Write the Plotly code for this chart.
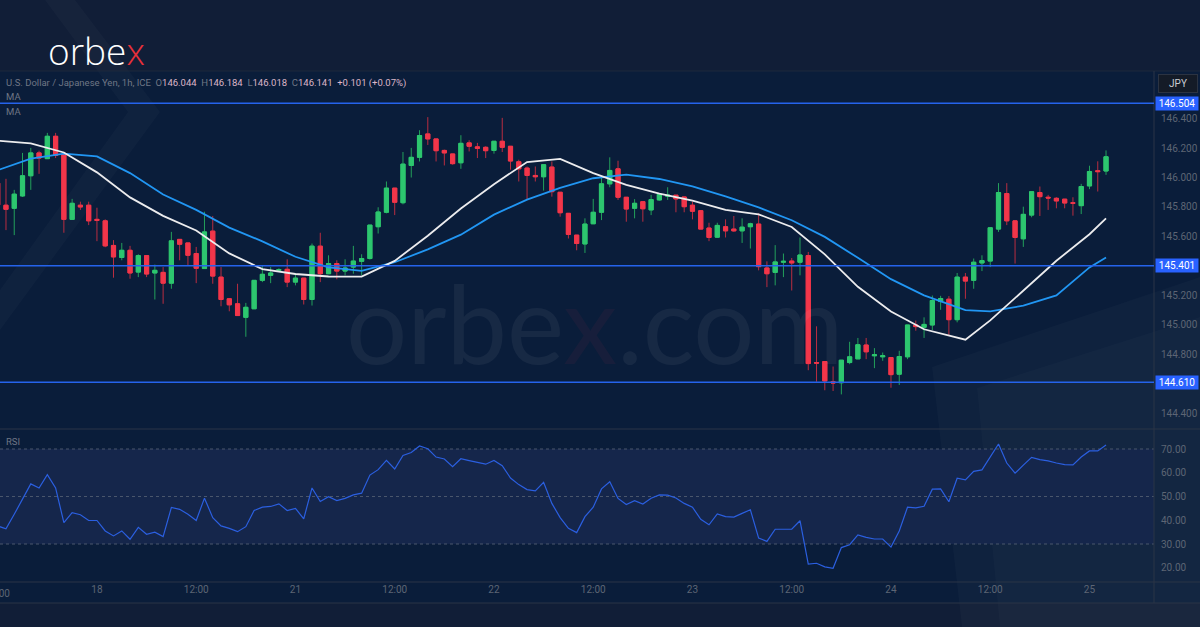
import plotly.graph_objects as go

# ---------------- data ----------------
opens = [145.962, 145.812, 145.791, 145.875, 146.012, 146.167, 146.128, 146.280, 146.155, 145.716,
         145.812, 145.812, 145.716, 145.706, 145.539, 145.457, 145.506, 145.358, 145.470, 145.352,
         145.356, 145.283, 145.580, 145.556, 145.484, 145.382, 145.636, 145.324, 145.177, 145.143,
         145.051, 145.109, 145.302, 145.336, 145.370, 145.377, 145.290, 145.317, 145.172, 145.534,
         145.347, 145.416, 145.365, 145.392, 145.431, 145.450, 145.666, 145.764, 145.928, 145.829,
         146.082, 146.137, 146.296, 146.262, 146.184, 146.160, 146.100, 146.235, 146.208, 146.205,
         146.184, 146.246, 146.212, 146.107, 146.064, 146.014, 146.005, 146.071, 145.900, 145.757,
         145.609, 145.549, 145.686, 145.764, 145.957, 146.059, 145.866, 145.791, 145.836, 145.780,
         145.848, 145.873, 145.880, 145.868, 145.812, 145.775, 145.657, 145.595, 145.666, 145.650,
         145.638, 145.666, 145.684, 145.386, 145.356, 145.425, 145.433, 145.425, 145.470, 144.744,
         144.751, 144.614, 144.607, 144.744, 144.769, 144.863, 144.790, 144.783, 144.778, 144.665,
         144.783, 144.999, 144.983, 144.999, 145.158, 145.174, 145.035, 145.324, 145.302, 145.420,
         145.433, 145.650, 145.891, 145.706, 145.584, 145.745, 145.898, 145.866, 145.859, 145.853,
         145.829, 145.809, 145.943, 146.046, 146.044]
highs = [145.984, 145.991, 145.916, 146.167, 146.201, 146.182, 146.303, 146.303, 146.167, 145.855,
         145.836, 145.836, 145.795, 145.716, 145.575, 145.556, 145.536, 145.479, 145.470, 145.409,
         145.392, 145.631, 145.580, 145.556, 145.529, 145.768, 145.739, 145.392, 145.177, 145.279,
         145.149, 145.302, 145.399, 145.392, 145.384, 145.445, 145.347, 145.317, 145.552, 145.625,
         145.472, 145.438, 145.445, 145.536, 145.479, 145.677, 145.798, 145.973, 145.928, 146.173,
         146.201, 146.321, 146.410, 146.262, 146.189, 146.160, 146.287, 146.253, 146.235, 146.212,
         146.246, 146.405, 146.212, 146.121, 146.075, 146.075, 146.087, 146.109, 145.900, 145.757,
         145.609, 145.723, 145.855, 146.007, 146.137, 146.114, 145.866, 145.853, 145.836, 145.882,
         145.887, 145.934, 145.880, 145.868, 145.836, 145.775, 145.693, 145.693, 145.716, 145.739,
         145.723, 145.693, 145.757, 145.431, 145.541, 145.484, 145.454, 145.593, 145.495, 144.990,
         144.751, 144.717, 144.760, 144.885, 144.911, 144.911, 144.842, 144.812, 144.778, 144.824,
         144.999, 145.029, 145.051, 145.199, 145.197, 145.195, 145.352, 145.352, 145.450, 145.472,
         145.659, 145.962, 145.962, 145.706, 145.802, 145.904, 145.939, 145.882, 145.866, 145.853,
         145.866, 145.957, 146.080, 146.110, 146.184]
lows = [145.780, 145.643, 145.609, 145.868, 145.916, 146.025, 146.128, 146.132, 145.625, 145.716,
        145.780, 145.677, 145.568, 145.527, 145.320, 145.438, 145.313, 145.324, 145.324, 145.172,
        145.143, 145.245, 145.438, 145.404, 145.283, 145.382, 145.279, 145.126, 145.092, 145.063,
        144.919, 145.109, 145.290, 145.283, 145.363, 145.256, 145.268, 145.138, 145.131, 145.290,
        145.347, 145.309, 145.336, 145.347, 145.336, 145.443, 145.620, 145.757, 145.745, 145.818,
        146.000, 146.109, 146.221, 146.109, 146.082, 146.087, 146.059, 146.177, 146.132, 146.132,
        146.162, 146.173, 146.053, 145.973, 145.848, 145.973, 145.911, 145.870, 145.734, 145.586,
        145.506, 145.488, 145.686, 145.711, 145.934, 145.848, 145.700, 145.723, 145.700, 145.745,
        145.843, 145.848, 145.764, 145.764, 145.716, 145.650, 145.568, 145.593, 145.593, 145.631,
        145.556, 145.518, 145.370, 145.256, 145.268, 145.324, 145.233, 145.336, 144.692, 144.614,
        144.556, 144.551, 144.528, 144.733, 144.769, 144.767, 144.706, 144.756, 144.573, 144.592,
        144.767, 144.960, 144.911, 144.965, 145.102, 144.926, 145.017, 145.177, 145.245, 145.365,
        145.392, 145.631, 145.677, 145.416, 145.529, 145.730, 145.739, 145.780, 145.791, 145.791,
        145.741, 145.752, 145.921, 145.905, 146.018]
closes = [145.814, 145.784, 145.887, 146.012, 146.167, 146.132, 146.280, 146.150, 145.716, 145.825,
          145.800, 145.706, 145.709, 145.536, 145.461, 145.506, 145.352, 145.470, 145.345, 145.370,
          145.283, 145.570, 145.547, 145.472, 145.384, 145.631, 145.331, 145.172, 145.136, 145.063,
          145.119, 145.302, 145.343, 145.352, 145.375, 145.290, 145.317, 145.172, 145.534, 145.347,
          145.416, 145.365, 145.386, 145.433, 145.450, 145.677, 145.766, 145.928, 145.832, 146.091,
          146.137, 146.285, 146.262, 146.182, 146.167, 146.094, 146.232, 146.212, 146.198, 146.182,
          146.246, 146.205, 146.112, 146.059, 146.014, 146.005, 146.087, 145.904, 145.761, 145.614,
          145.552, 145.684, 145.764, 145.957, 146.048, 145.866, 145.786, 145.825, 145.788, 145.850,
          145.887, 145.880, 145.855, 145.802, 145.771, 145.650, 145.593, 145.675, 145.638, 145.638,
          145.663, 145.686, 145.395, 145.347, 145.427, 145.431, 145.420, 145.474, 144.737, 144.740,
          144.619, 144.605, 144.760, 144.783, 144.865, 144.817, 144.797, 144.790, 144.662, 144.785,
          144.999, 144.988, 145.003, 145.165, 145.179, 145.035, 145.324, 145.297, 145.425, 145.436,
          145.659, 145.898, 145.706, 145.593, 145.750, 145.904, 145.870, 145.861, 145.841, 145.827,
          145.825, 145.939, 146.041, 146.040, 146.141]

rsi = [37.6, 36.4, 42.5, 48.7, 55.3, 53.6, 59.2, 53.6, 39.0, 43.2,
       42.3, 39.9, 39.9, 35.5, 33.4, 35.5, 32.0, 37.0, 34.1, 35.0,
       33.1, 45.4, 44.6, 42.5, 39.9, 49.3, 41.1, 37.6, 36.6, 35.2,
       37.3, 44.1, 45.5, 45.8, 46.9, 44.1, 45.0, 40.6, 53.6, 47.9,
       49.9, 48.3, 49.2, 50.7, 51.4, 59.0, 61.3, 65.2, 61.6, 67.3,
       68.5, 71.3, 70.1, 66.6, 65.8, 62.6, 65.9, 65.1, 64.4, 63.6,
       65.2, 63.0, 57.8, 55.0, 52.9, 52.4, 56.0, 47.1, 41.1, 36.6,
       34.8, 41.5, 45.5, 53.2, 56.2, 49.2, 46.6, 48.2, 46.8, 49.3,
       50.7, 50.6, 49.4, 47.1, 45.5, 40.4, 38.1, 42.7, 41.5, 41.3,
       42.9, 44.4, 32.5, 31.1, 36.2, 36.2, 36.2, 39.8, 21.5, 21.9,
       20.4, 19.8, 28.5, 29.7, 33.8, 32.8, 32.1, 32.1, 28.7, 35.5,
       45.5, 45.2, 45.9, 53.1, 53.2, 47.8, 57.7, 57.0, 60.6, 61.2,
       66.9, 72.1, 64.1, 59.8, 63.2, 66.5, 65.5, 65.0, 64.1, 63.4,
       63.3, 66.6, 69.2, 69.2, 71.7]

ma_idx = [0, 4, 8, 12, 16, 20, 24, 28, 32, 36, 40, 44, 48, 52, 56, 60, 64, 68, 72, 76,
          80, 84, 88, 92, 96, 100, 104, 108, 112, 117, 120, 124, 128, 132, 134]
ma_fast = [146.250, 146.232, 146.170, 146.035, 145.865, 145.740, 145.640, 145.485, 145.378, 145.345,
           145.328, 145.327, 145.434, 145.605, 145.790, 145.955, 146.105, 146.127, 146.030, 145.950,
           145.890, 145.843, 145.780, 145.750, 145.664, 145.478, 145.258, 145.090, 144.970, 144.899,
           145.030, 145.230, 145.435, 145.615, 145.723]
ma_slow = [146.050, 146.128, 146.162, 146.143, 146.030, 145.885, 145.780, 145.660, 145.567, 145.462,
           145.390, 145.366, 145.425, 145.512, 145.612, 145.748, 145.850, 145.930, 145.995, 146.020,
           145.990, 145.940, 145.872, 145.797, 145.710, 145.597, 145.455, 145.310, 145.200, 145.100,
           145.092, 145.130, 145.200, 145.390, 145.457]

levels = [146.504, 145.401, 144.610]
price_ticks = [144.4, 144.8, 145.0, 145.2, 145.6, 145.8, 146.0, 146.2, 146.4]
rsi_ticks = [20, 30, 40, 50, 60, 70]
rsi_bands = [30, 50, 70]
time_tick_idx = [12, 24, 36, 48, 60, 72, 84, 96, 108, 120, 132]
time_tick_text = ["18", "12:00", "21", "12:00", "22", "12:00", "23", "12:00", "24", "12:00", "25"]
first_tick_text = "12:00"
symbol_title = "U.S. Dollar / Japanese Yen, 1h, ICE"
currency = "JPY"

# ---------------- helpers for layout positions (pixels -> paper) ----------------
W, H = 1200, 627
def px(x):
    return x / W
def py(y):
    return 1 - y / H

idx = list(range(len(opens)))
body_hi = [max(o, c) for o, c in zip(opens, closes)]
body_lo = [min(o, c) for o, c in zip(opens, closes)]

GREEN = "#2dc66f"
RED = "#f2364a"
AX_TXT = "#5d6574"
FONT = "Roboto"

fig = go.Figure()

# wicks
fig.add_trace(go.Candlestick(
    x=idx, open=opens, high=highs, low=lows, close=closes,
    increasing=dict(line=dict(color="#23a05b", width=1), fillcolor="#23a05b"),
    decreasing=dict(line=dict(color="#b92d40", width=1), fillcolor="#b92d40"),
    whiskerwidth=0, hoverinfo="skip", showlegend=False, xaxis="x", yaxis="y"))
# bodies
fig.add_trace(go.Candlestick(
    x=idx, open=opens, high=body_hi, low=body_lo, close=closes,
    increasing=dict(line=dict(color=GREEN, width=1), fillcolor=GREEN),
    decreasing=dict(line=dict(color=RED, width=1), fillcolor=RED),
    whiskerwidth=0, hoverinfo="skip", showlegend=False, xaxis="x", yaxis="y"))

fig.add_trace(go.Scatter(x=ma_idx, y=ma_slow, mode="lines",
                         line=dict(color="#2196f3", width=1.8),
                         hoverinfo="skip", showlegend=False, xaxis="x", yaxis="y"))
fig.add_trace(go.Scatter(x=ma_idx, y=ma_fast, mode="lines",
                         line=dict(color="#ececee", width=1.8),
                         hoverinfo="skip", showlegend=False, xaxis="x", yaxis="y"))
fig.add_trace(go.Scatter(x=idx, y=rsi, mode="lines",
                         line=dict(color="#2b5fe0", width=1.2),
                         hoverinfo="skip", showlegend=False, xaxis="x", yaxis="y2"))

shapes = []
# chart background
shapes.append(dict(type="rect", xref="paper", yref="paper", x0=0, x1=1, y0=py(603), y1=py(71),
                   fillcolor="#0a1d3a", line=dict(width=0), layer="below"))
# decorative faint shapes
def poly(points):
    return "M " + " L ".join(f"{px(a):.4f} {py(b):.4f}" for a, b in points) + " Z"
shapes.append(dict(type="path", xref="paper", yref="paper", layer="below",
                   path=poly([(932, 367), (1200, 277), (1200, 627), (962, 627)]),
                   fillcolor="rgba(255,255,255,0.025)", line=dict(width=0)))
shapes.append(dict(type="path", xref="paper", yref="paper", layer="below",
                   path=poly([(977, 388), (1200, 317), (1200, 627), (1000, 627)]),
                   fillcolor="rgba(255,255,255,0.02)", line=dict(width=0)))
shapes.append(dict(type="path", xref="paper", yref="paper", layer="below",
                   path=poly([(45, 0), (75, 0), (160, 112), (0, 330), (0, 290), (128, 112)]),
                   fillcolor="rgba(255,255,255,0.022)", line=dict(width=0)))
# RSI band
shapes.append(dict(type="rect", xref="paper", yref="y2", x0=0, x1=px(1154), y0=rsi_bands[0], y1=rsi_bands[-1],
                   fillcolor="#15264b", line=dict(width=0), layer="below"))
for b in rsi_bands:
    shapes.append(dict(type="line", xref="paper", yref="y2", x0=0, x1=px(1154), y0=b, y1=b,
                       line=dict(color="#4a566c", width=1, dash="3px,3px"), layer="below"))
# separators
for yy, col in [(71, "#1c283c"), (429, "#2a3446"), (582, "#2a3446"), (603, "#2a3446")]:
    shapes.append(dict(type="line", xref="paper", yref="paper", x0=0, x1=1, y0=py(yy), y1=py(yy),
                       line=dict(color=col, width=1)))
shapes.append(dict(type="line", xref="paper", yref="paper", x0=px(1154), x1=px(1154), y0=py(603), y1=py(71),
                   line=dict(color="#2a3446", width=1)))
# horizontal levels
for lv in levels:
    shapes.append(dict(type="line", xref="paper", yref="y", x0=0, x1=px(1154), y0=lv, y1=lv,
                       line=dict(color="#2563eb", width=1.6)))

annotations = []
# logo
annotations.append(dict(xref="paper", yref="paper", x=px(97), y=py(50), xanchor="center", yanchor="middle",
                        text="orbe<span style='color:#e8303a'>x</span>", showarrow=False,
                        font=dict(family="Open Sans", size=37, color="#ffffff", weight=300)))
# watermark
annotations.append(dict(xref="paper", yref="paper", x=px(594), y=py(322), xanchor="center", yanchor="middle",
                        text="orbe<span style='color:#ff4050'>x</span>.com", showarrow=False, opacity=0.05,
                        font=dict(family="Lato", size=108, color="#ffffff")))
# header
chg = closes[-1] - closes[-2]
pct = chg / closes[-2] * 100
G = "#6f7685"
P = "#dcb6c8"
nb = "\u00a0"
header = (f"<span style='color:{G}'>{symbol_title}{nb}{nb}O</span><span style='color:{P}'>{opens[-1]:.3f}</span>"
          f"<span style='color:{G}'>{nb}{nb}H</span><span style='color:{P}'>{highs[-1]:.3f}</span>"
          f"<span style='color:{G}'>{nb}{nb}L</span><span style='color:{P}'>{lows[-1]:.3f}</span>"
          f"<span style='color:{G}'>{nb}{nb}C</span><span style='color:{P}'>{closes[-1]:.3f}</span>"
          f"<span style='color:{P}'>{nb}{nb}{chg:+.3f} ({pct:+.2f}%)</span>")
annotations.append(dict(xref="paper", yref="paper", x=px(4), y=py(83), xanchor="left", yanchor="middle",
                        text=header, showarrow=False, font=dict(family=FONT, size=9.5, color=G)))
for yy, t in [(97, "MA"), (111, "MA"), (441, "RSI")]:
    annotations.append(dict(xref="paper", yref="paper", x=px(4), y=py(yy), xanchor="left", yanchor="middle",
                            text=t, showarrow=False, font=dict(family=FONT, size=9.5, color=G)))
# currency box
annotations.append(dict(xref="paper", yref="paper", x=px(1178), y=py(83.5), xanchor="center", yanchor="middle",
                        text=currency, showarrow=False, width=36, height=15,
                        bgcolor="#141b27", bordercolor="#2b3342", borderwidth=1, borderpad=1,
                        font=dict(family=FONT, size=10, color="#c8ccd4")))
# level labels
for lv in levels:
    annotations.append(dict(xref="paper", yref="y", x=px(1155), y=lv, xanchor="left", yanchor="middle",
                            text=f"{lv:.3f}", showarrow=False, width=40, height=11, borderpad=1,
                            bgcolor="#2962ff", font=dict(family=FONT, size=10, color="#ffffff")))
# first (clipped) time label
annotations.append(dict(xref="paper", yref="paper", x=px(-2.3), y=py(593), xanchor="center", yanchor="middle",
                        text=first_tick_text, showarrow=False, font=dict(family=FONT, size=10, color=AX_TXT)))

fig.update_layout(
    width=W, height=H, margin=dict(l=0, r=0, t=0, b=0),
    paper_bgcolor="#111e37", plot_bgcolor="rgba(0,0,0,0)",
    showlegend=False, boxgap=0.28, boxmode="overlay",
    shapes=shapes, annotations=annotations,
    xaxis=dict(domain=[0, px(1154)], range=[0.278, 139.8], anchor="y2",
               tickvals=time_tick_idx, ticktext=time_tick_text,
               tickfont=dict(family=FONT, size=10, color=AX_TXT),
               showgrid=False, zeroline=False, showline=False, ticks="",
               rangeslider=dict(visible=False), fixedrange=True),
    yaxis=dict(domain=[py(429), py(71)], range=[144.293, 146.723], anchor="x", side="right",
               tickvals=price_ticks, tickformat=".3f", ticklabelstandoff=6,
               tickfont=dict(family=FONT, size=10, color=AX_TXT),
               showgrid=False, zeroline=False, showline=False, ticks="", fixedrange=True),
    yaxis2=dict(domain=[py(582), py(429)], range=[14.0, 78.42], anchor="x", side="right",
                tickvals=rsi_ticks, tickformat=".2f", ticklabelstandoff=6,
                tickfont=dict(family=FONT, size=10, color=AX_TXT),
                showgrid=False, zeroline=False, showline=False, ticks="", fixedrange=True),
)

fig.write_html("out.html", config={"displayModeBar": False, "staticPlot": True},
               post_script="document.body.style.margin='0';document.body.style.overflow='hidden';")
